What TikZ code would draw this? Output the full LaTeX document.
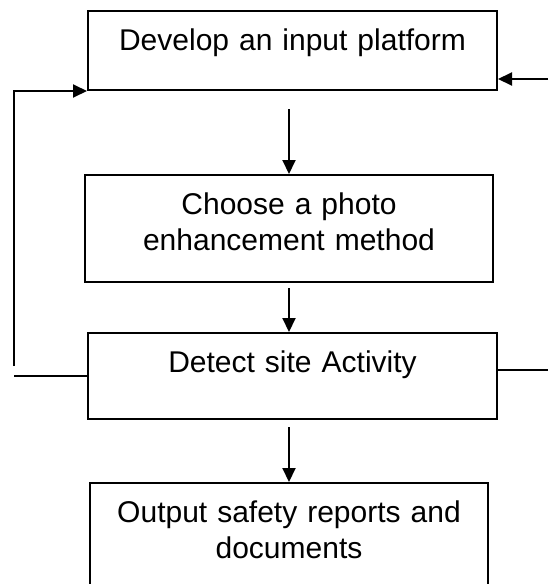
\documentclass[tikz,border=0pt]{standalone}
\usepackage{fontspec}
\setmainfont{Liberation Sans}
\usetikzlibrary{arrows.meta}
\begin{document}
\begin{tikzpicture}[x=0.5pt, y=-0.5pt, line width=1pt,
    every node/.style={font=\fontsize{15}{18}\selectfont},
    etapa/.style={draw, anchor=north, align=center, inner xsep=0pt, inner ysep=8.5pt, text height=11pt},
    flecha/.style={-{Triangle[width=6.5pt,length=7pt]}}]
    \useasboundingbox (0,0) rectangle (548,584);
    \clip (0,0) rectangle (548,584);
    % Etapas del proceso
    \node[etapa, text width=204.5pt, text depth=11.5pt] (plataforma) at (292.5,10) {Develop an input platform};
    \node[etapa, text width=204pt, text depth=25.5pt] (metodo) at (289,174) {Choose a photo\\enhancement method};
    \node[etapa, text width=204.5pt, text depth=15pt] (deteccion) at (292.5,332) {Detect site Activity};
    \node[etapa, text width=199pt, text depth=32pt] (informe) at (289,482) {Output safety reports and\\documents};
    % Flechas principales
    \draw[flecha, shorten <=9pt] (plataforma.south -| metodo.north) -- (metodo.north);
    \draw[flecha, shorten <=2.5pt] (metodo.south) -- (deteccion.north -| metodo.south);
    \draw[flecha, shorten <=3.5pt] (deteccion.south -| informe.north) -- (informe.north);
    % Retorno por la izquierda y lineas laterales
    \coordinate (retorno) at (14,366);
    \coordinate (entrada) at (548,79);
    \coordinate (salida) at (548,370);
    \draw (deteccion.west) -- (deteccion.west -| retorno);
    \draw[flecha] (retorno) |- (plataforma.south west);
    \draw[flecha] (entrada) -- (entrada -| plataforma.east);
    \draw (salida -| deteccion.east) -- (salida);
\end{tikzpicture}
\end{document}
